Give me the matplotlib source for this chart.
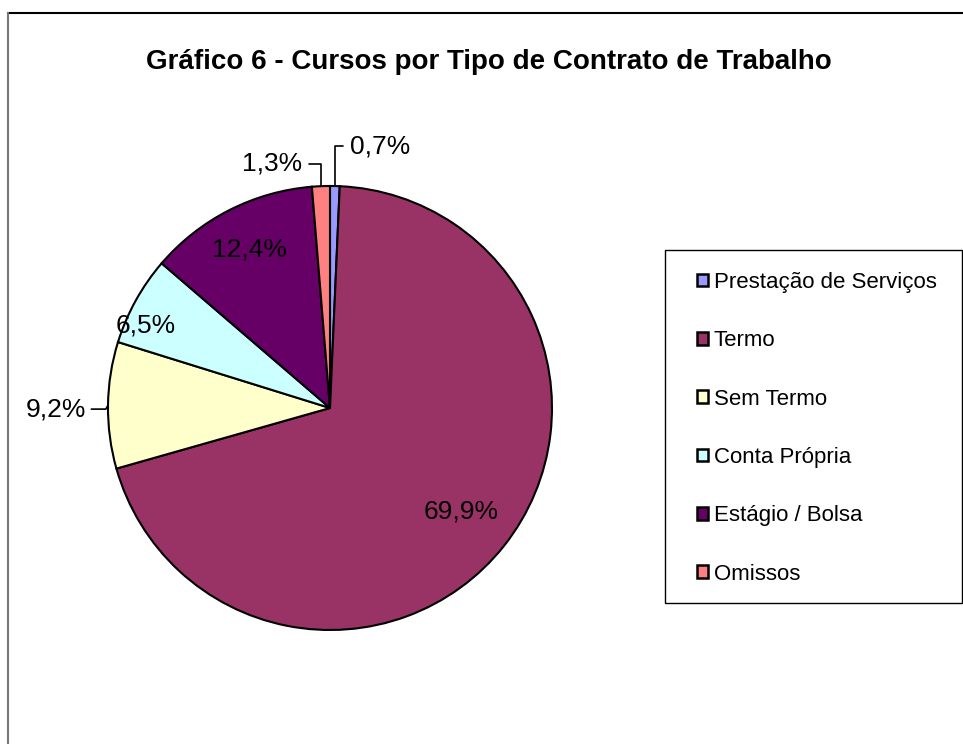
import numpy as np
import matplotlib
matplotlib.use("Agg")
import matplotlib.pyplot as plt
from matplotlib.lines import Line2D
from matplotlib.patches import Rectangle

plt.rcParams['font.family'] = ['Liberation Sans', 'DejaVu Sans']

# chart data
categorias = ['Prestação de Serviços', 'Termo', 'Sem Termo',
              'Conta Própria', 'Estágio / Bolsa', 'Omissos']
percentagens = [0.7, 69.9, 9.2, 6.5, 12.4, 1.3]
cores = ['#9999FF', '#993366', '#FFFFCC', '#CCFFFF', '#660066', '#FF8080']
rotulos = ['0,7%', '69,9%', '9,2%', '6,5%', '12,4%', '1,3%']

W, H = 963, 744
fig = plt.figure(figsize=(W / 100, H / 100), dpi=100)
fig.patch.set_facecolor('white')

# chart area border (top + left visible)
fig.add_artist(Line2D([8 / W, 1], [1 - 13 / H, 1 - 13 / H], color='black', lw=1.5))
fig.add_artist(Line2D([8 / W, 8 / W], [0, 1 - 13 / H], color='#777777', lw=1.5))

fig.text(489 / W, 1 - 62 / H, 'Gráfico 6 - Cursos por Tipo de Contrato de Trabalho',
         ha='center', va='center', fontsize=20, fontweight='bold')

cx, cy, r = 330, 408, 222
ax = fig.add_axes([(cx - r) / W, (H - cy - r) / H, 2 * r / W, 2 * r / H])

wedges, _ = ax.pie(percentagens, colors=cores, startangle=90, counterclock=False,
                   radius=1, wedgeprops=dict(edgecolor='black', linewidth=1.5))
ax.set_xlim(-1, 1)
ax.set_ylim(-1, 1)
ax.set_aspect('auto')
ax.axis('off')

lbl_fs = 19
for i, w in enumerate(wedges):
    mid = np.deg2rad((w.theta1 + w.theta2) / 2)
    ex, ey = np.cos(mid), np.sin(mid)
    nome = categorias[i]
    if nome == 'Termo':
        ax.text(0.755 * ex, 0.755 * ey, rotulos[i], ha='center', va='center',
                fontsize=lbl_fs, color='black')
    elif nome == 'Estágio / Bolsa':
        ax.text(0.8 * ex, 0.8 * ey, rotulos[i], ha='center', va='center',
                fontsize=lbl_fs, color='black')
    elif nome == 'Conta Própria':
        ang = mid + np.deg2rad(5)
        ax.text(0.91 * np.cos(ang), 0.91 * np.sin(ang), rotulos[i], ha='center',
                va='center', fontsize=lbl_fs, color='black')
    elif nome == 'Sem Termo':
        ax.annotate(rotulos[i], xy=(ex, ey), xytext=(-1.1, -0.005),
                    ha='right', va='center', fontsize=lbl_fs, annotation_clip=False,
                    arrowprops=dict(arrowstyle='-', color='black', lw=1.2,
                                    shrinkA=2, shrinkB=0,
                                    connectionstyle='angle,angleA=0,angleB=60,rad=0'))
    elif nome == 'Omissos':
        ax.annotate(rotulos[i], xy=(ex, ey), xytext=(-0.125, 1.10),
                    ha='right', va='center', fontsize=lbl_fs, annotation_clip=False,
                    arrowprops=dict(arrowstyle='-', color='black', lw=1.2,
                                    shrinkA=3, shrinkB=0,
                                    connectionstyle='angle,angleA=0,angleB=90,rad=0'))
    elif nome == 'Prestação de Serviços':
        ax.annotate(rotulos[i], xy=(ex, ey), xytext=(0.09, 1.18),
                    ha='left', va='center', fontsize=lbl_fs, annotation_clip=False,
                    arrowprops=dict(arrowstyle='-', color='black', lw=1.2,
                                    shrinkA=3, shrinkB=0,
                                    connectionstyle='angle,angleA=0,angleB=90,rad=0'))

# legend frame drawn separately so padding can be matched
fig.add_artist(Rectangle((665 / W, 1 - 603 / H), 297 / W, 353 / H,
                         transform=fig.transFigure, facecolor='white',
                         edgecolor='black', lw=1.0, zorder=1))
leg = fig.legend(wedges, categorias, loc='upper left',
                 bbox_to_anchor=(697 / W, 1 - 272 / H), fontsize=16,
                 frameon=False,
                 handlelength=0.5, handleheight=0.5, handletextpad=0.25,
                 labelspacing=1.68, borderpad=0, borderaxespad=0)
leg.set_zorder(2)
for h in leg.legend_handles:
    h.set_linewidth(1.8)
    h.set_edgecolor('black')

fig.savefig('out.png', dpi=100, facecolor='white')
